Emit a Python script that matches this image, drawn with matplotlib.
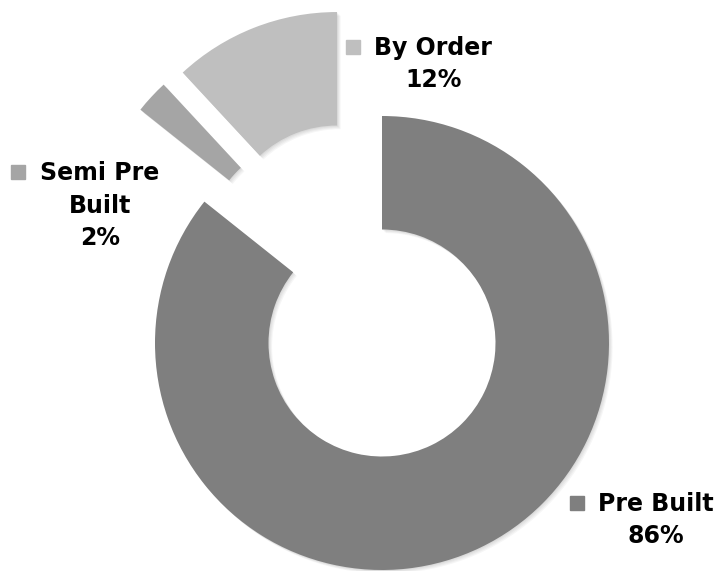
import matplotlib
matplotlib.use('Agg')
import matplotlib.pyplot as plt
from matplotlib.patches import Wedge

# chart data (shares; labels show the rounded values)
labels = ['Pre Built', 'Semi Pre Built', 'By Order']
shares = [85.7, 2.4, 11.9]
colors = ['#7f7f7f', '#a5a5a5', '#bfbfbf']
# how far each slice is pulled out from the centre (data units, radius = 1)
slice_offsets = [(0, 0), (-0.282, 0.405), (-0.198, 0.458)]

# label block text and placement
label_text = ['Pre Built\n86%', 'Semi Pre\nBuilt\n2%', 'By Order\n12%']
label_pos = [(1.207, -0.78), (-1.242, 0.604), (0.225, 1.229)]
marker_pos = [(0.859, -0.705), (-1.604, 0.753), (-0.128, 1.304)]

fig = plt.figure(figsize=(7.19, 5.71), dpi=100)
ax = fig.add_axes([0, 0, 1, 1])

wedges, _ = ax.pie(shares, colors=colors, startangle=90,
                   counterclock=False, radius=1,
                   wedgeprops=dict(width=0.5, linewidth=0, zorder=3))

for w, (dx, dy) in zip(wedges, slice_offsets):
    w.set_center((dx, dy))
    # soft drop shadow, a few faint layers down and to the right
    for k in range(1, 5):
        s = Wedge((dx + 0.004 * k, dy - 0.004 * k), w.r, w.theta1, w.theta2,
                  width=w.width, facecolor='black', alpha=0.035,
                  linewidth=0, zorder=2)
        ax.add_patch(s)

for txt, (tx, ty), (mx, my), c in zip(label_text, label_pos, marker_pos, colors):
    ax.text(tx, ty, txt, ha='center', va='center', multialignment='center',
            fontsize=17, fontweight='bold', family='DejaVu Sans',
            linespacing=1.45, color='black')
    ax.plot(mx, my, marker='s', markersize=10, color=c, linestyle='none')

ax.set_xlim(-382 / 227, 337 / 227)
ax.set_ylim(-228 / 227, 343 / 227)
ax.set_aspect('equal', adjustable='datalim')
ax.axis('off')

fig.savefig('out.png', dpi=100)
